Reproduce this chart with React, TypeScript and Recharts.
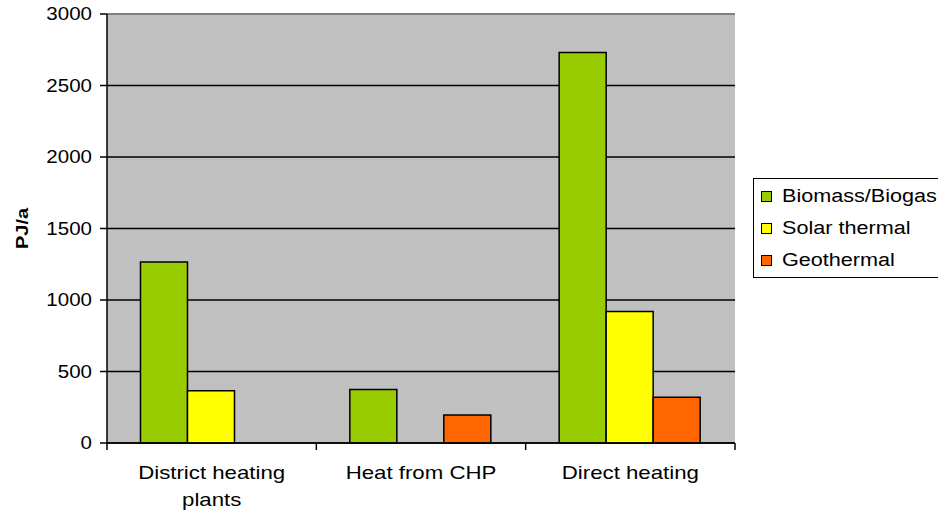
import React from 'react';
import { Bar, BarChart, CartesianGrid, Legend, ReferenceLine, XAxis, YAxis } from 'recharts';

const CATEGORIES = ['District heating plants', 'Heat from CHP', 'Direct heating'];
const BIOMASS = [1265, 375, 2730];
const SOLAR = [365, 0, 920];
const GEOTHERMAL = [0, 195, 320];
const Y_TICKS = [0, 500, 1000, 1500, 2000, 2500, 3000];

const SERIES = [
  { key: 'biomass', label: 'Biomass/Biogas', color: '#99CC00' },
  { key: 'solar', label: 'Solar thermal', color: '#FFFF00' },
  { key: 'geo', label: 'Geothermal', color: '#FF6600' },
];

const data = CATEGORIES.map((name, i) => ({
  name,
  biomass: BIOMASS[i],
  solar: SOLAR[i],
  geo: GEOTHERMAL[i],
}));

const FONT = '"Liberation Sans", Arial, sans-serif';
const STRETCH = 1.2;

// greedy wrap, roughly what Excel does with the long category
function wrap(text: string, max = 16) {
  const lines: string[] = [];
  let cur = '';
  for (const w of text.split(' ')) {
    const next = cur ? cur + ' ' + w : w;
    if (next.length > max && cur) {
      lines.push(cur);
      cur = w;
    } else {
      cur = next;
    }
  }
  if (cur) lines.push(cur);
  return lines;
}

function YTick({ x, y, payload }: any) {
  return (
    <text
      transform={`translate(${x},${y}) scale(${STRETCH * 0.95},1)`}
      textAnchor="end"
      dy={6}
      fontSize={18}
      fontFamily={FONT}
      fill="#000"
    >
      {payload.value}
    </text>
  );
}

// Excel puts the category ticks on the band edges, so draw them here
function XTick({ x, y, payload, width, visibleTicksCount, index }: any) {
  const lines = wrap(String(payload.value));
  const half = width / (visibleTicksCount || CATEGORIES.length) / 2;
  return (
    <g transform={`translate(${x},${y})`}>
      {index === 0 && <line x1={-half} x2={-half} y1={0} y2={7} stroke="#000" strokeWidth={1.5} />}
      <line x1={half} x2={half} y1={0} y2={7} stroke="#000" strokeWidth={1.5} />
      {lines.map((line, i) => (
        <text
          key={i}
          transform={`translate(0,${36 + i * 27}) scale(${STRETCH * 1.03},1)`}
          textAnchor="middle"
          fontSize={18}
          fontFamily={FONT}
          fill="#000"
        >
          {line}
        </text>
      ))}
    </g>
  );
}

function LegendBox() {
  return (
    <div
      style={{
        border: '1px solid #000',
        background: '#fff',
        width: 200,
        height: 97,
        paddingTop: 1,
        boxSizing: 'content-box',
        fontFamily: FONT,
        fontSize: 18,
        color: '#000',
      }}
    >
      {SERIES.map((s) => (
        <div key={s.key} style={{ height: 32, display: 'flex', alignItems: 'center', whiteSpace: 'nowrap' }}>
          <span
            style={{
              display: 'inline-block',
              width: 9,
              height: 9,
              marginLeft: 7,
              marginRight: 10,
              background: s.color,
              border: '1px solid #000',
            }}
          />
          <span style={{ display: 'inline-block', transform: `scaleX(${STRETCH})`, transformOrigin: 'left center' }}>
            {s.label}
          </span>
        </div>
      ))}
    </div>
  );
}

export default function App() {
  return (
    <div style={{ position: 'absolute', left: 0, top: 0, width: 938, height: 510, overflow: 'hidden', background: '#fff' }}>
      <BarChart
        width={938}
        height={510}
        data={data}
        margin={{ top: 14, right: 203, bottom: 0, left: 0 }}
        barCategoryGap="16%"
        barGap={0}
      >
        <CartesianGrid vertical={false} stroke="#000" strokeWidth={1.4} fill="#C0C0C0" fillOpacity={1} />
        <XAxis
          dataKey="name"
          height={67}
          tickLine={false}
          tickSize={0}
          tickMargin={0}
          axisLine={{ stroke: '#000', strokeWidth: 1.5 }}
          tick={<XTick />}
          interval={0}
        />
        <YAxis
          type="number"
          domain={[0, 3000]}
          ticks={Y_TICKS}
          width={107}
          tickSize={7}
          tickMargin={8}
          tickLine={{ stroke: '#000', strokeWidth: 1.5 }}
          axisLine={{ stroke: '#000', strokeWidth: 1.5 }}
          tick={<YTick />}
          label={({ viewBox }: any) => (
            <text
              transform={`translate(23,${viewBox.y + viewBox.height / 2}) rotate(-90) scale(1.25,1)`}
              textAnchor="middle"
              dominantBaseline="central"
              fontSize={16}
              fontWeight="bold"
              fontFamily={FONT}
              fill="#000"
            >
              PJ/a
            </text>
          )}
        />
        <ReferenceLine y={3000} stroke="#808080" strokeWidth={2} />
        <ReferenceLine x={CATEGORIES[CATEGORIES.length - 1]} position="end" stroke="#808080" strokeWidth={2} />
        <Legend
          layout="horizontal"
          verticalAlign="middle"
          align="center"
          content={() => <LegendBox />}
          wrapperStyle={{ left: 753, top: 178, width: 202, height: 99 }}
        />
        {SERIES.map((s) => (
          <Bar
            key={s.key}
            dataKey={s.key}
            name={s.label}
            fill={s.color}
            stroke="#000"
            strokeWidth={1.5}
            isAnimationActive={false}
          />
        ))}
      </BarChart>
    </div>
  );
}
